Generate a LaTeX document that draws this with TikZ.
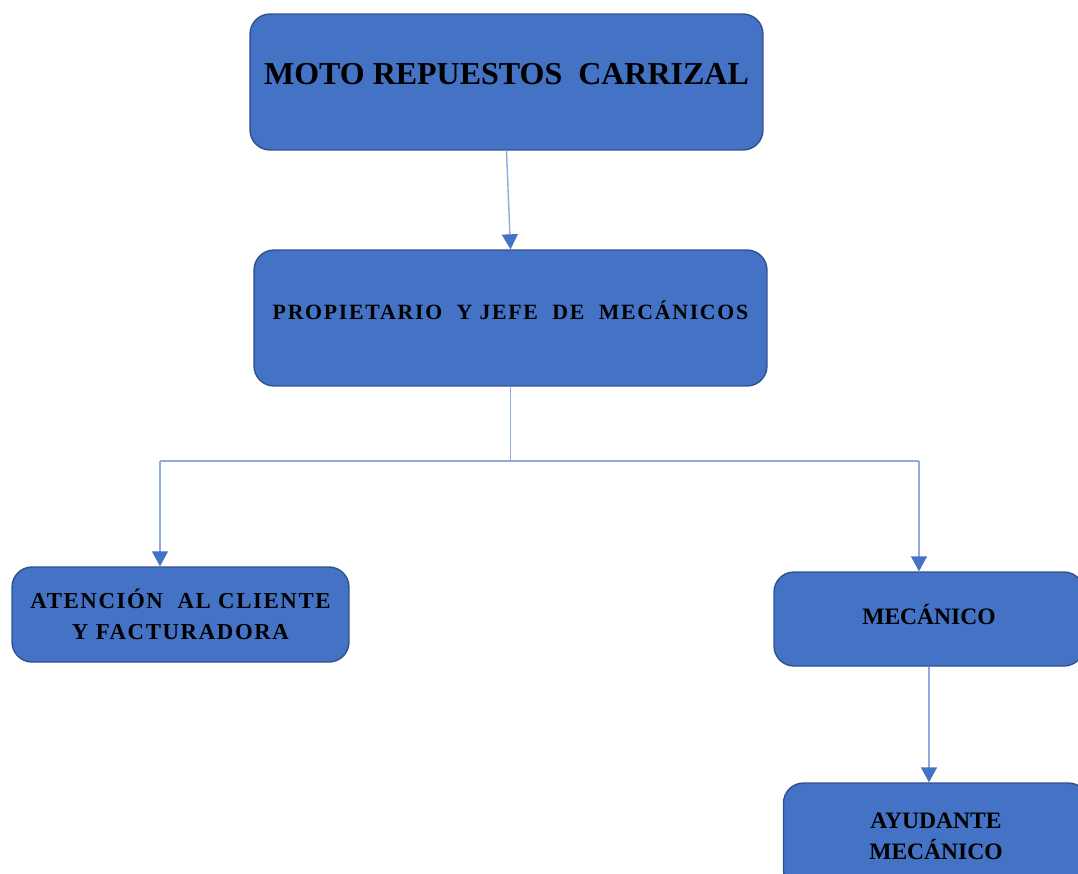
\documentclass[tikz,border=0pt]{standalone}
\usepackage{fontspec}
\setmainfont{Liberation Serif}
\usetikzlibrary{arrows.meta, positioning}

\definecolor{cajaazul}{RGB}{68,114,196}
\definecolor{bordeazul}{RGB}{47,82,143}
\definecolor{lineaazul}{RGB}{143,170,220}

\tikzset{
    caja/.style={draw=bordeazul, line width=0.8pt, fill=cajaazul, rounded corners=0.4cm,
        align=center, font=\bfseries, text=black, inner sep=2pt},
    linea/.style={draw=lineaazul, line width=0.8pt},
    flecha/.style={linea, -{Triangle[length=0.3cm, width=0.32cm, fill=cajaazul, color=cajaazul]}}
}

\begin{document}
\begin{tikzpicture}[x=0.02cm, y=-0.02cm]
        \clip (0,0) rectangle (1078,873);
        \node[caja, minimum width=10.26cm, minimum height=2.72cm, text depth=0.33cm,
            font=\bfseries\fontsize{18.2}{21}\selectfont] (moto) at (506.5,82)
            {MOTO REPUESTOS \ CARRIZAL};
        \node[caja, minimum width=10.26cm, minimum height=2.72cm, text depth=0.33cm,
            font=\bfseries\fontsize{12.4}{14}\selectfont\addfontfeature{LetterSpace=8}] (prop) at (510.5,318)
            {PROPIETARIO \ Y JEFE \ DE \ MECÁNICOS};
        \node[caja, minimum width=6.74cm, minimum height=1.9cm,
            font=\bfseries\fontsize{13}{17.5}\selectfont\addfontfeature{LetterSpace=7}] (atencion) at (180.5,614.5)
            {ATENCIÓN \ AL CLIENTE\\Y FACTURADORA};
        \node[caja, minimum width=6.2cm, minimum height=1.88cm, text depth=0.18cm,
            font=\bfseries\fontsize{13.4}{17.5}\selectfont] (mecanico) at (929,619)
            {MECÁNICO};
        \node[caja, minimum width=6.1cm, minimum height=2.14cm,
            font=\bfseries\fontsize{13.4}{17.5}\selectfont] (ayudante) at (936,836.5)
            {AYUDANTE\\MECÁNICO};
        \coordinate (split) at (510.5,461);
        \coordinate (izq) at (160,461);
        \coordinate (der) at (919,461);
        \draw[flecha] (moto.south) -- (prop.north);
        \draw[linea] (prop.south) -- (split);
        \draw[linea] (izq) -- (der);
        \draw[flecha] (izq) -- (izq |- atencion.north);
        \draw[flecha] (der) -- (der |- mecanico.north);
        \draw[flecha] (mecanico.south) -- (mecanico.south |- ayudante.north);
\end{tikzpicture}
\end{document}
